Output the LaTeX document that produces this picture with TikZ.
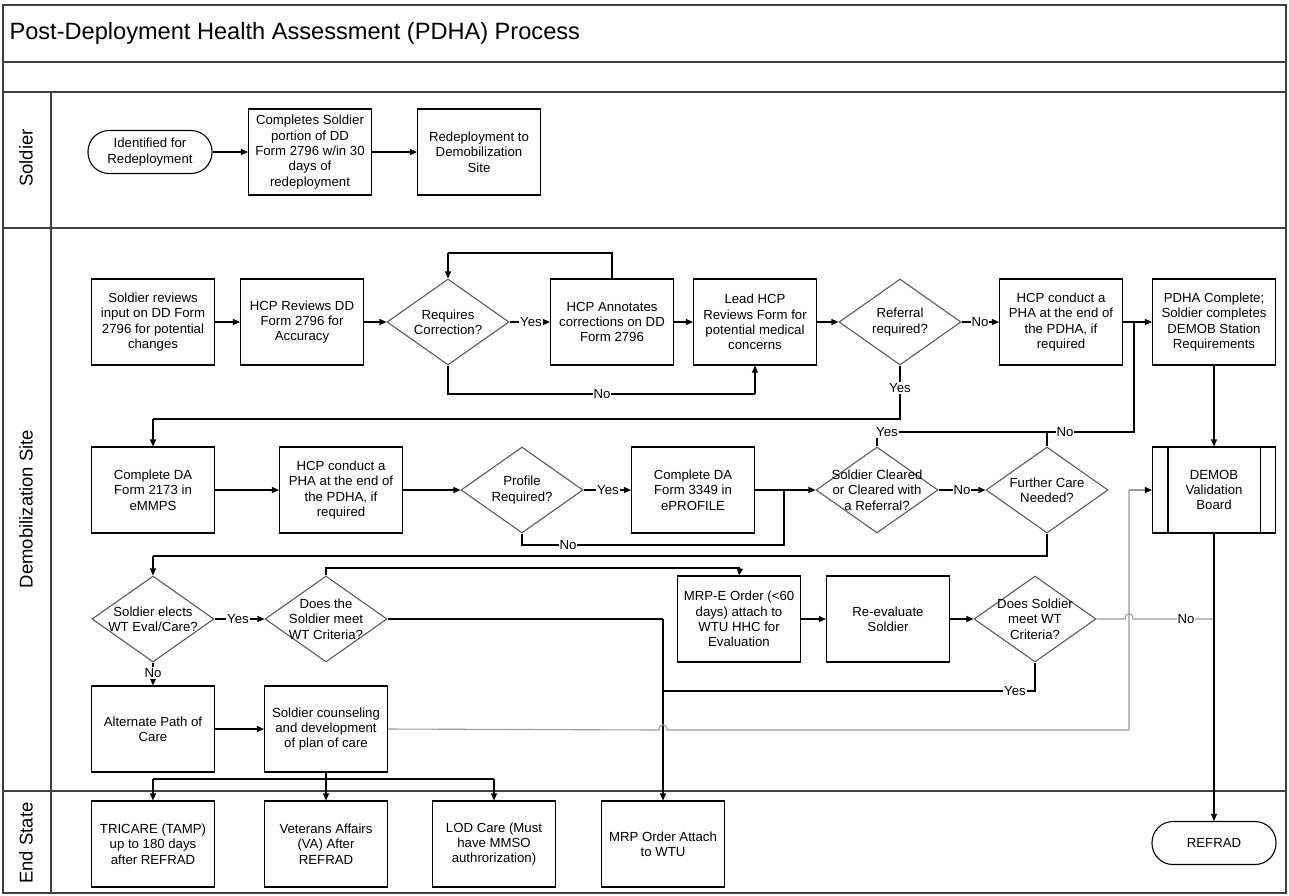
\documentclass[tikz,border=0pt]{standalone}
\usepackage{fontspec}
\setmainfont{Liberation Sans}
\usetikzlibrary{arrows.meta,shapes.geometric}
\newcommand\boxfont{\fontsize{13.2}{15.3}\selectfont}
\tikzset{
  frame/.style={draw=black!75, line width=1.6pt},
  box/.style={draw, line width=1.1pt, minimum width=123pt, minimum height=86pt, align=center, font=\boxfont, inner sep=1pt},
  term/.style={draw, line width=1.1pt, rounded corners=21pt, minimum width=124pt, minimum height=43pt, align=center, font=\boxfont},
  dia/.style={diamond, draw=black!65, line width=1.1pt, minimum width=122pt, minimum height=86pt, inner sep=0pt, aspect=1.42},
  dtext/.style={align=center, font=\boxfont, inner sep=0pt},
  conn/.style={line width=1.1pt},
  arr/.style={line width=1.1pt, -{Triangle[length=7pt,width=6pt]}},
  gconn/.style={line width=1.1pt, draw=black!40},
  garr/.style={line width=1.1pt, draw=black!40, -{Triangle[length=7pt,width=6pt,color=black]}},
  yn/.style={fill=white, inner sep=1pt, font=\boxfont},
  lane/.style={rotate=90, font=\fontsize{18.5}{22}\selectfont}
}
\begin{document}
\begin{tikzpicture}[x=1pt,y=-1pt]
\useasboundingbox (0,0) rectangle (1289,895);
% frame
\draw[frame] (3,5) rectangle (1286,893);
\draw[frame] (3,62) -- (1286,62);
\draw[frame] (3,92) -- (1286,92);
\draw[frame] (3,228) -- (1286,228);
\draw[frame] (3,791) -- (1286,791);
\draw[frame] (51,92) -- (51,893);
\node[anchor=west, font=\fontsize{23.6}{26}\selectfont] (title) at (6,33) {Post-Deployment Health Assessment (PDHA) Process};
\node[lane] (lsol) at (26,158) {Soldier};
\node[lane] (ldem) at (26,509) {Demobilization Site};
\node[lane] (lend) at (26,843) {End State};

% Soldier lane
\node[term] (idr) at (150,152) {Identified for\\Redeployment};
\node[box] (cs) at (310,152) {Completes Soldier\\portion of DD\\Form 2796 w/in 30\\days of\\redeployment};
\node[box] (rd) at (479,152) {Redeployment to\\Demobilization\\Site};
\draw[arr] (idr) -- (cs);
\draw[arr] (cs) -- (rd);

% Row 1
\node[box] (srv) at (153,322) {Soldier reviews\\input on DD Form\\2796 for potential\\changes};
\node[box] (hcpr) at (302,322) {HCP Reviews DD\\Form 2796 for\\Accuracy};
\node[dia, label={[dtext]center:{Requires\\Correction?}}] (rc) at (448,322) {};
\node[box] (ann) at (612,322) {HCP Annotates\\corrections on DD\\Form 2796};
\node[box] (lead) at (755,322) {Lead HCP\\Reviews Form for\\potential medical\\concerns};
\node[dia, label={[dtext]center:{Referral\\required?}}] (ref) at (900,322) {};
\node[box] (pha1) at (1061,322) {HCP conduct a\\PHA at the end of\\the PDHA, if\\required};
\node[box] (pdha) at (1214,322) {PDHA Complete;\\Soldier completes\\DEMOB Station\\Requirements};

% Row 2
\node[box] (c2173) at (153,490) {Complete DA\\Form 2173 in\\eMMPS};
\node[box] (pha2) at (341,490) {HCP conduct a\\PHA at the end of\\the PDHA, if\\required};
\node[dia, label={[dtext]center:{Profile\\Required?}}] (prof) at (522,490) {};
\node[box] (c3349) at (693,490) {Complete DA\\Form 3349 in\\ePROFILE};
\node[dia, label={[dtext]center:{Soldier Cleared\\or Cleared with\\a Referral?}}] (sc) at (877,490) {};
\node[dia, label={[dtext]center:{Further Care\\Needed?}}] (fc) at (1047,490) {};
\node[box] (demob) at (1214,490) {DEMOB\\Validation\\Board};
\draw[line width=1.1pt] ([xshift=16pt]demob.north west) -- ([xshift=16pt]demob.south west);
\draw[line width=1.1pt] ([xshift=-16pt]demob.north east) -- ([xshift=-16pt]demob.south east);

% Row 3
\node[dia, label={[dtext]center:{Soldier elects\\WT Eval/Care?}}] (we) at (153,619) {};
\node[dia, label={[dtext]center:{Does the\\Soldier meet\\WT Criteria?}}] (dts) at (326,619) {};
\node[box] (mrpe) at (739,619) {MRP-E Order (<60\\days) attach to\\WTU HHC for\\Evaluation};
\node[box] (reev) at (888,619) {Re-evaluate\\Soldier};
\node[dia, label={[dtext]center:{Does Soldier\\meet WT\\Criteria?}}] (ds) at (1035,619) {};

% Row 4
\node[box] (alt) at (153,729) {Alternate Path of\\Care};
\node[box] (scp) at (326,729) {Soldier counseling\\and development\\of plan of care};

% End state
\node[box] (tri) at (153,844) {TRICARE (TAMP)\\up to 180 days\\after REFRAD};
\node[box] (va) at (326,844) {Veterans Affairs\\(VA) After\\REFRAD};
\node[box] (lod) at (494,844) {LOD Care (Must\\have MMSO\\authrorization)};
\node[box] (mrp) at (663,844) {MRP Order Attach\\to WTU};
\node[term] (refrad) at (1214,843) {REFRAD};

% coordinates
\coordinate (loopA) at (612,253);
\coordinate (loopB) at (448,253);
\coordinate (noA) at (448,394);
\coordinate (noB) at (755,394);
\coordinate (refA) at (900,419);
\coordinate (refB) at (153,419);
\coordinate (jA) at (1134,432);
\coordinate (jB) at (1134,322);
\coordinate (scA) at (877,432);
\coordinate (fcA) at (1047,432);
\coordinate (prA) at (522,545);
\coordinate (prB) at (784,545);
\coordinate (prC) at (784,490);
\coordinate (fcB) at (1047,556);
\coordinate (fcC) at (153,556);
\coordinate (dtA) at (326,568);
\coordinate (dtB) at (740,568);
\coordinate (dtC) at (663,619);
\coordinate (dsA) at (1035,691);
\coordinate (dsB) at (663,691);
\coordinate (brA) at (326,779);
\coordinate (brL) at (153,779);
\coordinate (brR) at (494,779);
\coordinate (gA) at (659,730);
\coordinate (gB) at (667,730);
\coordinate (gC) at (1129,730);
\coordinate (gD) at (1129,490);
\coordinate (nA) at (1125,619);
\coordinate (nB) at (1133,619);
\coordinate (nC) at (1214,619);

% Row 1 connectors
\draw[arr] (srv) -- (hcpr);
\draw[arr] (hcpr) -- (rc);
\draw[arr] (rc) -- (ann);
\draw[conn] (ann.north) -- (loopA) -- (loopB);
\draw[arr] (loopB) -- (rc.north);
\draw[conn] (rc.south) -- (noA) -- (noB);
\draw[arr] (noB) -- (lead.south);
\draw[arr] (ann) -- (lead);
\draw[arr] (lead) -- (ref);
\draw[arr] (ref) -- (pha1);
\draw[arr] (pha1) -- (pdha);
\draw[conn] (ref.south) -- (refA) -- (refB);
\draw[arr] (refB) -- (c2173.north);
\draw[conn] (sc.north) -- (scA) -- (jA) -- (jB);
\draw[conn] (fc.north) -- (fcA);
\draw[arr] (pdha) -- (demob);

% Row 2 connectors
\draw[arr] (c2173) -- (pha2);
\draw[arr] (pha2) -- (prof);
\draw[arr] (prof) -- (c3349);
\draw[arr] (c3349) -- (sc);
\draw[conn] (prof.south) -- (prA) -- (prB) -- (prC);
\draw[arr] (sc) -- (fc);
\draw[conn] (fc.south) -- (fcB) -- (fcC);
\draw[arr] (fcC) -- (we.north);

% Row 3 connectors
\draw[arr] (we) -- (dts);
\draw[conn] (dts.north) -- (dtA) -- (dtB);
\draw[arr] (dtB) -- (mrpe.north);
\draw[conn] (dts.east) -- (dtC);
\draw[arr] (dtC) -- (mrp.north);
\draw[arr] (mrpe) -- (reev);
\draw[arr] (reev) -- (ds);
\draw[conn] (ds.south) -- (dsA) -- (dsB);
\draw[arr] (we) -- (alt);
\draw[gconn] (ds.east) -- (nA) .. controls (1125,612) and (1133,612) .. (nB) -- (nC);
\draw[arr] (demob) -- (refrad);

% Row 4 connectors
\draw[arr] (alt) -- (scp);
\draw[gconn] (scp.east) -- (gA) .. controls (659,723) and (667,723) .. (gB) -- (gC) -- (gD);
\draw[garr] (gD) -- (demob.west);
\draw[conn] (scp.south) -- (brA);
\draw[conn] (brL) -- (brR);
\draw[arr] (brL) -- (tri.north);
\draw[arr] (brA) -- (va.north);
\draw[arr] (brR) -- (lod.north);

% Yes/No labels
\node[yn] (y1) at (531,322) {Yes};
\node[yn] (n1) at (602,394) {No};
\node[yn] (n2) at (980,322) {No};
\node[yn] (y2) at (900,388) {Yes};
\node[yn] (y3) at (887,432) {Yes};
\node[yn] (n3) at (1065,432) {No};
\node[yn] (y4) at (608,490) {Yes};
\node[yn] (n4) at (568,545) {No};
\node[yn] (n5) at (962,490) {No};
\node[yn] (y5) at (238,619) {Yes};
\node[yn] (n6) at (153,673) {No};
\node[yn] (n7) at (1186,619) {No};
\node[yn] (y6) at (1015,691) {Yes};
\end{tikzpicture}
\end{document}
